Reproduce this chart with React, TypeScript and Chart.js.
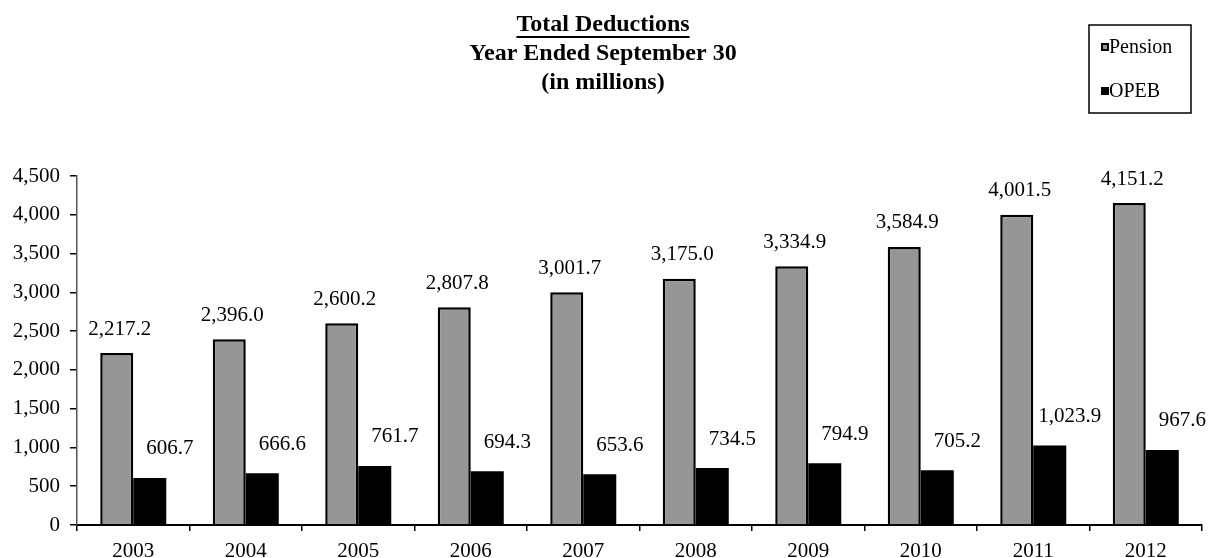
import React, { useEffect, useRef } from "react";
import { Chart, registerables } from "chart.js";

Chart.register(...registerables);

const years = ["2003", "2004", "2005", "2006", "2007", "2008", "2009", "2010", "2011", "2012"];
const pension = [2217.2, 2396.0, 2600.2, 2807.8, 3001.7, 3175.0, 3334.9, 3584.9, 4001.5, 4151.2];
const opeb = [606.7, 666.6, 761.7, 694.3, 653.6, 734.5, 794.9, 705.2, 1023.9, 967.6];
const seriesNames = ["Pension", "OPEB"];
const titleLines = ["Total Deductions", "Year Ended September 30", "(in millions)"];

const FONT = "'Liberation Serif', 'Times New Roman', serif";
const fmt = (v: number) =>
  v.toLocaleString("en-US", { minimumFractionDigits: 1, maximumFractionDigits: 1 });

const decorPlugin = {
  id: "decor",
  afterDatasetsDraw(chart: any) {
    const ctx = chart.ctx;
    ctx.save();
    ctx.fillStyle = "#000";
    ctx.font = `21px ${FONT}`;
    ctx.textAlign = "center";
    ctx.textBaseline = "middle";
    chart.data.datasets.forEach((ds: any, di: number) => {
      const meta = chart.getDatasetMeta(di);
      meta.data.forEach((bar: any, i: number) => {
        const v = ds.data[i] as number;
        if (di === 0) ctx.fillText(fmt(v), bar.x + 3, bar.y - 24);
        else ctx.fillText(fmt(v), bar.x + 20, bar.y - 29);
      });
    });
    ctx.restore();
  },
  afterDraw(chart: any) {
    const ctx = chart.ctx;
    ctx.save();
    // Title
    ctx.fillStyle = "#000";
    ctx.textAlign = "center";
    ctx.textBaseline = "middle";
    ctx.font = `bold 24px ${FONT}`;
    const cx = 603;
    const ys = [25, 54, 83];
    titleLines.forEach((t, i) => {
      ctx.fillText(t, cx, ys[i]);
      if (i === 0) {
        const w = ctx.measureText(t).width;
        ctx.fillRect(cx - w / 2, ys[i] + 11, w, 2);
      }
    });
    // Legend
    const lx = 1089, ly = 25, lw = 102, lh = 88;
    ctx.strokeStyle = "#000";
    ctx.lineWidth = 1.5;
    ctx.strokeRect(lx, ly, lw, lh);
    ctx.font = `20px ${FONT}`;
    ctx.textAlign = "left";
    const fills = ["#969696", "#000"];
    const ey = [47, 91];
    seriesNames.forEach((n, i) => {
      const y = ey[i];
      ctx.fillStyle = "#000";
      ctx.fillRect(lx + 12, y - 4, 8, 8);
      ctx.fillStyle = fills[i];
      ctx.fillRect(lx + 14, y - 2, 4, 4);
      ctx.fillStyle = "#000";
      ctx.fillText(n, lx + 20, y + 1);
    });
    ctx.restore();
  },
};

export default function App() {
  const ref = useRef<HTMLCanvasElement>(null);
  useEffect(() => {
    document.body.style.margin = "0";
    const chart = new Chart(ref.current!, {
      type: "bar",
      data: {
        labels: years,
        datasets: [
          {
            label: seriesNames[0],
            data: pension,
            backgroundColor: "#969696",
            borderColor: "#000",
            borderWidth: 2.5,
            categoryPercentage: 0.587,
            barPercentage: 1,
          },
          {
            label: seriesNames[1],
            data: opeb,
            backgroundColor: "#000",
            borderColor: "#000",
            borderWidth: 0,
            categoryPercentage: 0.587,
            barPercentage: 1,
          },
        ],
      },
      options: {
        animation: false,
        responsive: false,
        maintainAspectRatio: false,
        layout: { padding: { top: 176, right: 13, left: 0, bottom: 0 } },
        plugins: { legend: { display: false }, tooltip: { enabled: false }, title: { display: false } },
        scales: {
          x: {
            grid: { drawOnChartArea: false, offset: true, tickLength: 6, color: "#000", lineWidth: 1.5 },
            border: { color: "#000", width: 2 },
            ticks: { color: "#000", font: { family: FONT, size: 21 }, padding: 8, maxRotation: 0 },
            afterFit: (s: any) => { s.height = 33; },
          },
          y: {
            min: 0,
            max: 4500,
            grid: { drawOnChartArea: false, tickLength: 7, color: "#000", lineWidth: 1.5 },
            border: { color: "#555", width: 1.5 },
            ticks: {
              stepSize: 500,
              color: "#000",
              font: { family: FONT, size: 21 },
              padding: 10,
              callback: (v: any) => Number(v).toLocaleString("en-US"),
            },
            afterFit: (s: any) => { s.width = 77; },
          },
        },
      },
      plugins: [decorPlugin],
    });
    return () => chart.destroy();
  }, []);
  return (
    <div style={{ width: 1215, height: 558 }}>
      <canvas ref={ref} width={1215} height={558} style={{ display: "block" }} />
    </div>
  );
}
